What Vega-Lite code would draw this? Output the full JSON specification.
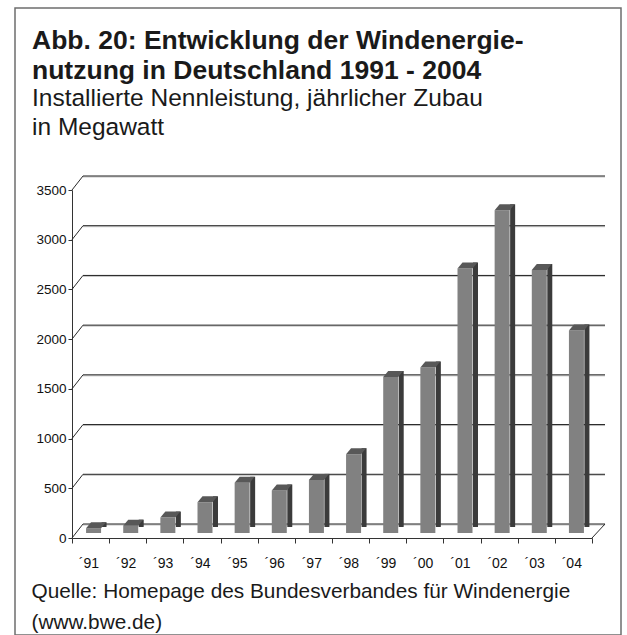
{
  "$schema": "https://vega.github.io/schema/vega-lite/v6.json",
  "autosize": "none",
  "width": 606,
  "height": 627,
  "padding": {"left": 15, "top": 8, "right": 6, "bottom": 0},
  "background": "white",
  "config": {
    "font": "Liberation Sans",
    "view": {"stroke": "#6e6e6e", "strokeWidth": 1.5, "fill": "white"}
  },
  "title": {
    "text": ["Abb. 20: Entwicklung der Windenergie-", "nutzung in Deutschland 1991 - 2004"],
    "subtitle": ["Installierte Nennleistung, jährlicher Zubau", "in Megawatt"],
    "anchor": "start",
    "frame": "group",
    "orient": "top",
    "font": "Liberation Sans",
    "fontSize": 26.5,
    "fontWeight": "bold",
    "lineHeight": 30,
    "color": "#1a1a1a",
    "subtitleFont": "Liberation Sans",
    "subtitleFontSize": 24.5,
    "subtitleFontWeight": "normal",
    "subtitleLineHeight": 29,
    "subtitleColor": "#1a1a1a",
    "subtitlePadding": 2,
    "offset": -131,
    "dx": 17
  },
  "datasets": {
    "bars": [
      {"year": "´91", "mw": 48},
      {"year": "´92", "mw": 74},
      {"year": "´93", "mw": 155},
      {"year": "´94", "mw": 309},
      {"year": "´95", "mw": 505},
      {"year": "´96", "mw": 428},
      {"year": "´97", "mw": 534},
      {"year": "´98", "mw": 793},
      {"year": "´99", "mw": 1568},
      {"year": "´00", "mw": 1665},
      {"year": "´01", "mw": 2659},
      {"year": "´02", "mw": 3247},
      {"year": "´03", "mw": 2645},
      {"year": "´04", "mw": 2037}
    ],
    "grid": [
      {"v": 0}, {"v": 500}, {"v": 1000}, {"v": 1500},
      {"v": 2000}, {"v": 2500}, {"v": 3000}, {"v": 3500}
    ]
  },
  "resolve": {"scale": {"x": "shared", "y": "shared"}},
  "layer": [
    {
      "data": {"name": "grid"},
      "mark": {"type": "rule", "color": "#c4c4c4", "strokeWidth": 1, "xOffset": 11, "x2Offset": 13, "yOffset": -13},
      "encoding": {
        "x": {"datum": "´91", "bandPosition": 0, "type": "nominal"},
        "x2": {"datum": "´04", "bandPosition": 1},
        "y": {"field": "v", "type": "quantitative"}
      }
    },
    {
      "data": {"name": "grid"},
      "mark": {"type": "rule", "color": "#1e1e1e", "strokeWidth": 1, "xOffset": 11, "x2Offset": 13, "yOffset": -14},
      "encoding": {
        "x": {"datum": "´91", "bandPosition": 0, "type": "nominal"},
        "x2": {"datum": "´04", "bandPosition": 1},
        "y": {"field": "v", "type": "quantitative"}
      }
    },
    {
      "data": {"name": "grid"},
      "mark": {"type": "rule", "color": "#2a2a2a", "strokeWidth": 1, "x2Offset": 11, "y2Offset": -14},
      "encoding": {
        "x": {"datum": "´91", "bandPosition": 0, "type": "nominal"},
        "x2": {"datum": "´91", "bandPosition": 0},
        "y": {"field": "v", "type": "quantitative"},
        "y2": {"field": "v"}
      }
    },
    {
      "data": {"values": [{"v": 0}]},
      "mark": {"type": "rule", "color": "#2a2a2a", "strokeWidth": 1, "x2Offset": 13, "y2Offset": -14},
      "encoding": {
        "x": {"datum": "´04", "bandPosition": 1, "type": "nominal"},
        "x2": {"datum": "´04", "bandPosition": 1},
        "y": {"field": "v", "type": "quantitative"},
        "y2": {"field": "v"}
      }
    },
    {
      "data": {"name": "bars"},
      "mark": {"type": "bar", "size": 5, "color": "#3b3b3b", "xOffset": 13.5, "x2Offset": 13.5, "yOffset": -11, "y2Offset": -5},
      "encoding": {
        "x": {"field": "year", "type": "nominal", "sort": null},
        "y": {"field": "mw", "type": "quantitative"}
      }
    },
    {
      "data": {"name": "bars"},
      "mark": {"type": "point", "filled": true, "color": "white", "opacity": 1, "strokeWidth": 0, "size": 400, "xOffset": 3, "yOffset": -5,
        "shape": "M0.74,0.06 L1.32,0.06 L1.32,-0.64 Z"},
      "encoding": {
        "x": {"field": "year", "type": "nominal", "sort": null},
        "y": {"datum": 0, "type": "quantitative"}
      }
    },
    {
      "data": {"name": "bars"},
      "mark": {"type": "bar", "size": 15, "color": "#818181", "xOffset": 3, "x2Offset": 3, "yOffset": -5, "y2Offset": -5},
      "encoding": {
        "x": {
          "field": "year", "type": "nominal", "sort": null,
          "scale": {"type": "band", "domain": ["´91", "´92", "´93", "´94", "´95", "´96", "´97", "´98", "´99", "´00", "´01", "´02", "´03", "´04"], "range": [57, 577], "paddingInner": 0, "paddingOuter": 0},
          "axis": {
            "orient": "bottom", "offset": -97, "tickBand": "extent", "labelAngle": 0,
            "domainColor": "#333333", "tickColor": "#333333", "tickSize": 5, "domainWidth": 1,
            "labelFont": "Liberation Sans", "labelFontSize": 14, "labelColor": "#111111", "labelPadding": 13,
            "labelBaseline": "top", "labelOffset": 8,
            "title": ["Quelle: Homepage des Bundesverbandes für Windenergie", "(www.bwe.de)"],
            "titleFont": "Liberation Sans", "titleFontSize": 20.8, "titleFontWeight": "normal", "titleColor": "#1a1a1a",
            "titleAlign": "left", "titleAnchor": "start", "titleBaseline": "alphabetic",
            "titleX": 16, "titleY": 59, "titleLineHeight": 31
          }
        },
        "y": {
          "field": "mw", "type": "quantitative",
          "scale": {"domain": [0, 3500], "range": [530, 182], "nice": false, "zero": true},
          "axis": {
            "orient": "left", "offset": -57, "values": [0, 500, 1000, 1500, 2000, 2500, 3000, 3500],
            "format": "d",
            "grid": false, "domainColor": "#333333", "tickColor": "#333333", "tickSize": 4,
            "labelFont": "Liberation Sans", "labelFontSize": 13.5, "labelColor": "#111111", "labelPadding": 2,
            "title": null
          }
        }
      }
    },
    {
      "data": {"name": "bars"},
      "mark": {"type": "point", "filled": true, "color": "#585858", "opacity": 1, "strokeWidth": 0, "size": 400, "xOffset": 3, "yOffset": -5,
        "shape": "M-0.75,0 L-0.25,-0.6 L1.25,-0.6 L0.75,0 Z"},
      "encoding": {
        "x": {"field": "year", "type": "nominal", "sort": null},
        "y": {"field": "mw", "type": "quantitative"}
      }
    }
  ]
}
